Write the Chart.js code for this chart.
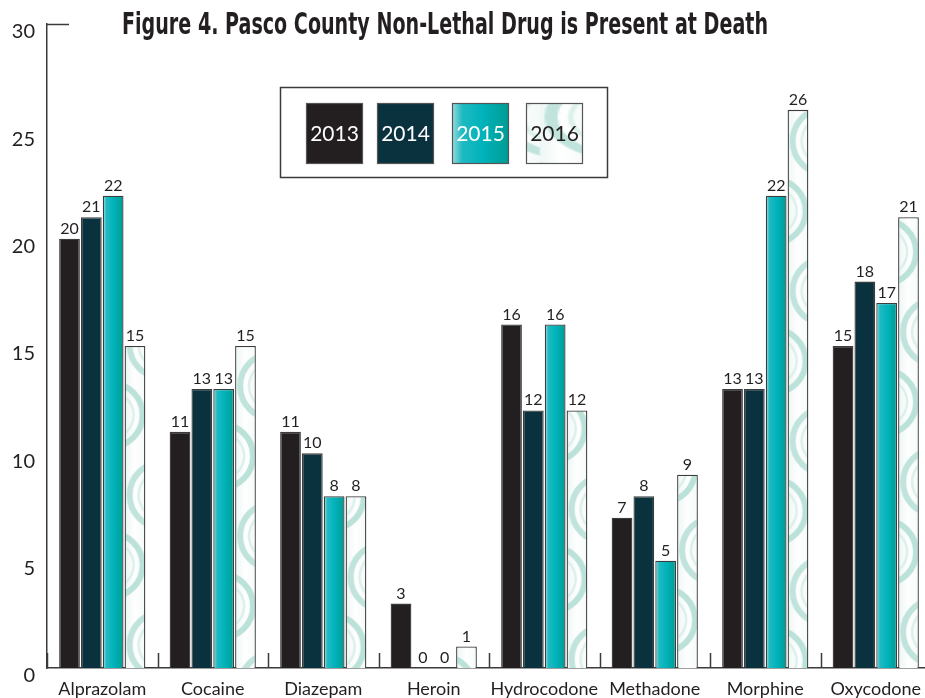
<!DOCTYPE html>
<html>
<head>
<meta charset="utf-8">
<script src="https://cdn.jsdelivr.net/npm/chart.js@4.4.1/dist/chart.umd.min.js"></script>
<style>
  html, body { margin: 0; padding: 0; background: #ffffff; overflow: hidden; }
  #wrap { width: 940px; height: 698px; position: relative; }
</style>
</head>
<body>
<div id="wrap"><canvas id="chart" width="940" height="698"></canvas></div>
<script>
// Drugs found present (non-lethal) at death, Pasco County
const drugs = ['Alprazolam', 'Cocaine', 'Diazepam', 'Heroin', 'Hydrocodone', 'Methadone', 'Morphine', 'Oxycodone'];
const years = ['2013', '2014', '2015', '2016'];
const counts2013 = [20, 11, 11, 3, 16, 7, 13, 15];
const counts2014 = [21, 13, 10, 0, 12, 8, 13, 18];
const counts2015 = [22, 13, 8, 0, 16, 5, 22, 17];
const counts2016 = [15, 15, 8, 1, 12, 9, 26, 21];
const yTicks = [0, 5, 10, 15, 20, 25, 30];

const TEXT = '#231f20';
const FONT = "Lato, 'Open Sans', sans-serif";
const CAT_PCT = 0.79;
const BAR_PCT = 0.95;

// Teal gradient running across the width of one bar
function tealGradient(ctx, left, right) {
  const g = ctx.createLinearGradient(left, 0, right, 0);
  g.addColorStop(0, '#9adadd');
  g.addColorStop(0.18, '#1fbac2');
  g.addColorStop(0.55, '#00b2ba');
  g.addColorStop(1, '#009b92');
  return g;
}

// Swirl tile (one bar wide): white ground with sweeping pale teal arcs
let swirlTile = null;
function getSwirlTile() {
  if (swirlTile) return swirlTile;
  const tile = document.createElement('canvas');
  tile.width = 22; tile.height = 150;
  const t = tile.getContext('2d');
  const bg = t.createLinearGradient(0, 0, 22, 0);
  bg.addColorStop(0, '#edf7f5');
  bg.addColorStop(0.45, '#ffffff');
  bg.addColorStop(1, '#f3faf8');
  t.fillStyle = bg;
  t.fillRect(0, 0, tile.width, tile.height);
  const band = (cx, cy, r, a0, a1, w, c) => {
    t.strokeStyle = c;
    t.lineWidth = w;
    t.beginPath(); t.arc(cx, cy, r, a0, a1); t.stroke();
  };
  // "(" sweep
  band(38, 45, 33, Math.PI * 0.5, Math.PI * 1.5, 6, '#c0e4dc');
  // ")" sweep
  band(-14, 115, 32, -Math.PI * 0.5, Math.PI * 0.5, 6, '#bbe2d9');
  band(-14, 115 - 150, 32, -Math.PI * 0.5, Math.PI * 0.5, 6, '#bbe2d9');
  // faint inner echoes
  band(38, 45, 24, Math.PI * 0.62, Math.PI * 1.38, 2.5, '#dcf0eb');
  band(-14, 115, 23, -Math.PI * 0.38, Math.PI * 0.38, 2.5, '#dcf0eb');
  swirlTile = tile;
  return tile;
}

function swirlPattern(ctx, left, top) {
  const p = ctx.createPattern(getSwirlTile(), 'repeat');
  if (p.setTransform && isFinite(left)) {
    p.setTransform(new DOMMatrix().translate(left, top || 0));
  }
  return p;
}

function barSpan(chart, datasetIndex, dataIndex) {
  const xs = chart.scales.x;
  const catW = xs.width / drugs.length;
  const groupW = catW * CAT_PCT;
  const slot = groupW / years.length;
  const center = xs.getPixelForValue(dataIndex);
  const left = center - groupW / 2 + slot * datasetIndex + slot * (1 - BAR_PCT) / 2;
  return [left, left + slot * BAR_PCT];
}

function fill2015(context) {
  const chart = context.chart;
  if (!chart.scales || !chart.scales.x || typeof context.dataIndex !== 'number') return '#00b2ba';
  const [l, r] = barSpan(chart, context.datasetIndex, context.dataIndex);
  if (!isFinite(l) || !isFinite(r)) return '#00b2ba';
  return tealGradient(chart.ctx, l, r);
}
function fill2016(context) {
  const chart = context.chart;
  if (!chart.scales || !chart.scales.x || typeof context.dataIndex !== 'number') return '#f4faf9';
  const [l] = barSpan(chart, context.datasetIndex, context.dataIndex);
  if (!isFinite(l)) return '#f4faf9';
  return swirlPattern(chart.ctx, l, context.dataIndex * 41);
}

const fills = ['#231f20', '#0a313e', fill2015, fill2016];
const series = [counts2013, counts2014, counts2015, counts2016];

// Title, legend box, value labels and category ticks
const decorations = {
  id: 'decorations',
  afterDatasetsDraw(chart) {
    const ctx = chart.ctx;
    const xs = chart.scales.x, ys = chart.scales.y;
    ctx.save();

    // value labels above bars
    ctx.fillStyle = TEXT;
    ctx.font = '16px ' + FONT;
    ctx.textAlign = 'center';
    ctx.textBaseline = 'alphabetic';
    chart.data.datasets.forEach((ds, di) => {
      const meta = chart.getDatasetMeta(di);
      meta.data.forEach((bar, i) => {
        ctx.fillText(String(ds.data[i]), bar.x, bar.y - 5);
      });
    });

    // short ticks between categories
    ctx.strokeStyle = '#3a3a3a';
    ctx.lineWidth = 1.5;
    const bottom = ys.getPixelForValue(0);
    for (let i = 0; i <= drugs.length; i++) {
      const x = Math.round(xs.getPixelForValue(i - 0.5)) + 0.5;
      ctx.beginPath();
      ctx.moveTo(x, bottom);
      ctx.lineTo(x, bottom - 15);
      ctx.stroke();
    }

    // cap on top of the value axis
    const top = Math.round(ys.getPixelForValue(30)) + 0.5;
    ctx.beginPath();
    ctx.moveTo(xs.left, top);
    ctx.lineTo(xs.left + 22, top);
    ctx.stroke();

    // legend box
    ctx.lineWidth = 1.5;
    ctx.strokeStyle = '#3a3a3a';
    ctx.strokeRect(280.5, 87.5, 327, 90);
    const swX = [306, 377, 452, 526];
    chart.data.datasets.forEach((ds, di) => {
      const x = swX[di], y = 103, w = 57, h = 61;
      let bg = ds.backgroundColor;
      if (di === 2) bg = tealGradient(ctx, x, x + w);
      if (di === 3) {
        bg = ctx.createPattern(getSwirlTile(), 'repeat');
        bg.setTransform(new DOMMatrix().translate(x + 14, y - 40).scale(2.2, 1.2));
      }
      ctx.fillStyle = bg;
      ctx.fillRect(x, y, w, h);
      ctx.lineWidth = 1.2;
      ctx.strokeStyle = '#555555';
      ctx.strokeRect(x + 0.5, y + 0.5, w - 1, h - 1);
      ctx.fillStyle = di === 3 ? TEXT : '#ffffff';
      ctx.font = '21px ' + FONT;
      ctx.textAlign = 'center';
      ctx.textBaseline = 'middle';
      ctx.fillText(ds.label, x + w / 2, y + h / 2 + 1);
    });

    // chart title
    const title = 'Figure 4. Pasco County Non-Lethal Drug is Present at Death';
    ctx.fillStyle = TEXT;
    ctx.font = "bold 30px 'Liberation Sans Narrow', 'DejaVu Sans Condensed', sans-serif";
    ctx.textAlign = 'left';
    ctx.textBaseline = 'alphabetic';
    const w = ctx.measureText(title).width;
    const target = 646;
    ctx.translate(122, 34);
    ctx.scale(target / w, 1);
    ctx.fillText(title, 0, 0);

    ctx.restore();
  }
};

new Chart(document.getElementById('chart'), {
  type: 'bar',
  data: {
    labels: drugs,
    datasets: years.map((yr, i) => ({
      label: yr,
      data: series[i],
      backgroundColor: fills[i],
      borderColor: '#3c3c3c',
      borderWidth: 1.3,
      borderSkipped: 'bottom',
      categoryPercentage: CAT_PCT,
      barPercentage: BAR_PCT
    }))
  },
  options: {
    responsive: false,
    animation: false,
    layout: { padding: { top: 24, right: 9, left: 0, bottom: 0 } },
    plugins: {
      legend: { display: false },
      title: { display: false },
      tooltip: { enabled: false }
    },
    scales: {
      x: {
        grid: { display: false },
        border: { display: true, color: '#3a3a3a', width: 1.5 },
        ticks: { color: TEXT, font: { family: FONT, size: 18 }, padding: 2, maxRotation: 0, autoSkip: false },
        afterFit(scale) { scale.height = 30; }
      },
      y: {
        min: 0,
        max: 30,
        afterBuildTicks(scale) { scale.ticks = yTicks.map(v => ({ value: v })); },
        grid: { display: false, drawTicks: false },
        border: { display: true, color: '#3a3a3a', width: 1.5 },
        ticks: { color: TEXT, font: { family: FONT, size: 20 }, padding: 12, labelOffset: 8 },
        afterFit(scale) { scale.width = 47; }
      }
    }
  },
  plugins: [decorations]
});
</script>
</body>
</html>
